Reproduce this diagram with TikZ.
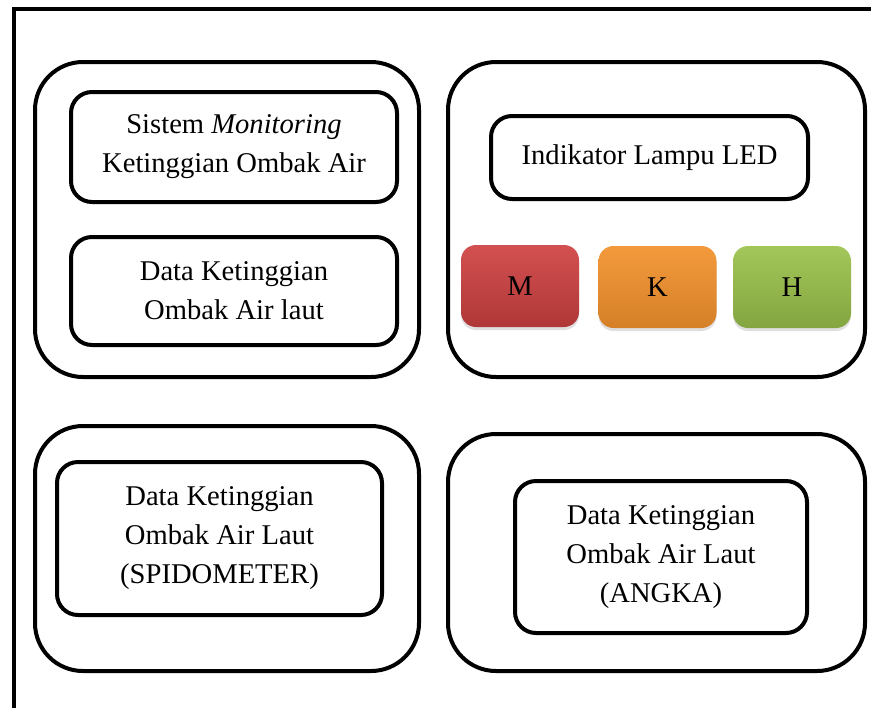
\documentclass[tikz,border=0pt]{standalone}
\usepackage{fontspec}
\setmainfont{Liberation Serif}
\usetikzlibrary{shadows}

\definecolor{lampred}{HTML}{CF4141}
\definecolor{lamporange}{HTML}{F2912C}
\definecolor{lampgreen}{HTML}{9BC24B}

\begin{document}
\begin{tikzpicture}[x=0.5pt, y=-0.5pt,
  panel/.style={draw, line width=2pt, rounded corners=24pt, inner sep=0pt},
  card/.style={draw, line width=2pt, rounded corners=10.5pt, align=center, inner sep=0pt, font=\fontsize{14.3}{19.5}\selectfont},
  lamp/.style={rounded corners=7.5pt, minimum width=59pt, minimum height=41pt, font=\fontsize{14.3}{17}\selectfont,
     drop shadow={shadow xshift=0pt, shadow yshift=-1.5pt, opacity=0.25}}
]
\useasboundingbox (0,0) rectangle (871,707);
\draw[line width=2pt] (14,720) -- (14,9) -- (880,9);

\node[panel, minimum width=192pt, minimum height=157.5pt] (panelA) at (227,219.5) {};
\node[panel, minimum width=208.5pt, minimum height=157.5pt] (panelB) at (656.5,219.5) {};
\node[panel, minimum width=192pt, minimum height=122.5pt] (panelC) at (227,548.5) {};
\node[panel, minimum width=208.5pt, minimum height=118.5pt] (panelD) at (656.5,552.5) {};

\node[card, minimum width=163pt, minimum height=55pt] (sistem) at (234,147) {Sistem \textit{Monitoring}\\Ketinggian Ombak Air};
\node[card, minimum width=163pt, minimum height=54pt] (dataA) at (234,291) {Data Ketinggian\\Ombak Air laut};
\node[card, minimum width=158.5pt, minimum height=41.5pt] (led) at (649.5,157.5) {Indikator Lampu LED};
\node[card, minimum width=162.5pt, minimum height=76.5pt] (spido) at (219.5,538.5) {Data Ketinggian\\Ombak Air Laut\\(SPIDOMETER)};
\node[card, minimum width=146pt, minimum height=76pt] (angka) at (661,557) {Data Ketinggian\\Ombak Air Laut\\(ANGKA)};

\node[lamp, top color=lampred!92!white, bottom color=lampred!85!black] (lampM) at (520,286) {M};
\node[lamp, top color=lamporange!92!white, bottom color=lamporange!88!black] (lampK) at (657.5,287) {K};
\node[lamp, top color=lampgreen!92!white, bottom color=lampgreen!85!black] (lampH) at (792,287) {H};
\end{tikzpicture}
\end{document}
